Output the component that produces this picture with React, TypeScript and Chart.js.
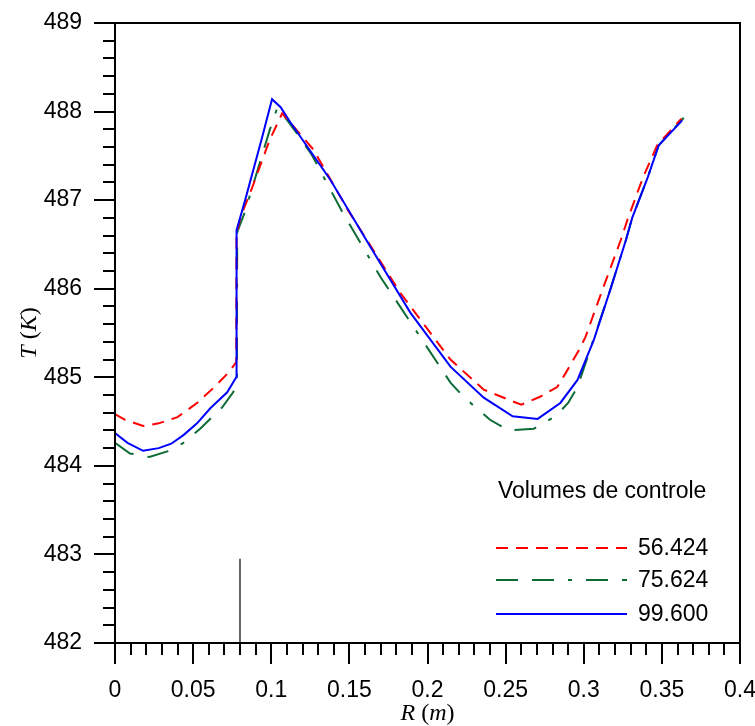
import React, { useEffect, useRef } from 'react';
import { Chart, registerables } from 'chart.js';

Chart.register(...registerables);

// Series names (legend)
const legendTitle = 'Volumes de controle';
const seriesNames = ['56.424', '75.624', '99.600'];

// Series 56.424 (red dashed)
const r56 = [0, 0.0064, 0.018, 0.028, 0.040, 0.0525, 0.063, 0.0725, 0.0776, 0.0778, 0.0805, 0.0865, 0.099, 0.107, 0.127, 0.149, 0.1827, 0.2147, 0.236, 0.26, 0.272, 0.283, 0.2885, 0.297, 0.301, 0.312, 0.3237, 0.328, 0.338, 0.347, 0.3625];
const t56 = [484.585, 484.52, 484.45, 484.48, 484.55, 484.71, 484.88, 485.05, 485.17, 486.62, 486.82, 487.08, 487.68, 487.98, 487.57, 486.89, 485.95, 485.2, 484.86, 484.69, 484.78, 484.89, 485.05, 485.31, 485.45, 485.99, 486.55, 486.78, 487.26, 487.62, 487.92];

// Series 75.624 (green dash-dot)
const r75 = [0, 0.0096, 0.022, 0.033, 0.043, 0.0545, 0.0686, 0.0756, 0.078, 0.0782, 0.083, 0.099, 0.104, 0.117, 0.126, 0.146, 0.17, 0.2147, 0.223, 0.24, 0.252, 0.268, 0.282, 0.29, 0.296, 0.304, 0.317, 0.327, 0.331, 0.341, 0.348, 0.364];
const t75 = [484.26, 484.14, 484.10, 484.16, 484.25, 484.42, 484.66, 484.83, 484.92, 486.64, 486.86, 487.79, 488.05, 487.74, 487.51, 486.85, 486.13, 484.94, 484.78, 484.52, 484.40, 484.42, 484.56, 484.71, 484.89, 485.31, 485.99, 486.55, 486.8, 487.26, 487.62, 487.93];

// Series 99.600 (blue solid)
const r99 = [0, 0.008, 0.018, 0.028, 0.036, 0.044, 0.0525, 0.061, 0.0718, 0.0776, 0.0778, 0.0833, 0.094, 0.1005, 0.106, 0.1122, 0.1378, 0.1635, 0.189, 0.2147, 0.236, 0.2545, 0.2705, 0.285, 0.296, 0.3064, 0.317, 0.327, 0.331, 0.341, 0.348, 0.363];
const t99 = [484.37, 484.26, 484.17, 484.20, 484.25, 484.35, 484.48, 484.65, 484.83, 485.00, 486.66, 487.00, 487.70, 488.14, 488.05, 487.88, 487.23, 486.47, 485.73, 485.12, 484.77, 484.56, 484.53, 484.71, 484.97, 485.42, 485.99, 486.55, 486.8, 487.26, 487.62, 487.90];

// Thin vertical marker line near R = 0.08
const markerR = [0.08, 0.08];
const markerT = [482, 482.95];

// Axes
const xMin = 0, xMax = 0.4, xStep = 0.05, xMinorStep = 0.01;
const yMin = 482, yMax = 489, yStep = 1, yMinorStep = 0.2;

const RED = '#ff0000';
const GREEN = '#0d6b36';
const BLUE = '#0000ff';
const DASH_RED = [12, 8];
const DASH_GREEN = [22, 14, 22, 14, 4, 14];

const FONT_SANS = "Arial, 'Liberation Sans', sans-serif";

const toPts = (rs: number[], ts: number[]) => rs.map((r, i) => ({ x: r, y: ts[i] }));

type Part = { t: string; italic: boolean };

function drawMixed(ctx: CanvasRenderingContext2D, parts: Part[], cx: number, cy: number, size: number) {
  const fam = "'Times New Roman', 'Liberation Serif', serif";
  let total = 0;
  const widths = parts.map((p) => {
    ctx.font = `${p.italic ? 'italic ' : ''}${size}px ${fam}`;
    const w = ctx.measureText(p.t).width;
    total += w;
    return w;
  });
  let x = cx - total / 2;
  ctx.textAlign = 'left';
  ctx.textBaseline = 'middle';
  parts.forEach((p, i) => {
    ctx.font = `${p.italic ? 'italic ' : ''}${size}px ${fam}`;
    ctx.fillText(p.t, x, cy);
    x += widths[i];
  });
}

const decorPlugin = {
  id: 'decor',
  afterDraw(chart: any) {
    const { ctx, chartArea: a, scales } = chart;
    const xs = scales.x;
    const ys = scales.y;
    ctx.save();
    ctx.strokeStyle = '#000';
    ctx.fillStyle = '#000';
    ctx.lineWidth = 2;
    ctx.setLineDash([]);
    // frame
    ctx.beginPath();
    ctx.moveTo(a.left, a.bottom);
    ctx.lineTo(a.left, a.top);
    ctx.lineTo(a.right, a.top);
    ctx.lineTo(a.right, a.bottom);
    ctx.lineTo(a.left, a.bottom);
    ctx.stroke();
    // ticks
    ctx.beginPath();
    const ny = Math.round((yMax - yMin) / yMinorStep);
    const perY = Math.round(yStep / yMinorStep);
    for (let i = 0; i <= ny; i++) {
      const v = yMin + i * yMinorStep;
      const py = Math.round(ys.getPixelForValue(v));
      const len = i % perY === 0 ? 21 : 12;
      ctx.moveTo(a.left - len, py);
      ctx.lineTo(a.left, py);
    }
    const nx = Math.round((xMax - xMin) / xMinorStep);
    const perX = Math.round(xStep / xMinorStep);
    for (let i = 0; i <= nx; i++) {
      const v = xMin + i * xMinorStep;
      const px = Math.round(xs.getPixelForValue(v));
      const len = i % perX === 0 ? 21 : 12;
      ctx.moveTo(px, a.bottom);
      ctx.lineTo(px, a.bottom + len);
    }
    ctx.stroke();

    // axis titles
    drawMixed(ctx, [
      { t: 'R', italic: true },
      { t: ' (', italic: false },
      { t: 'm', italic: true },
      { t: ')', italic: false },
    ], (a.left + a.right) / 2, a.bottom + 71, 24);
    ctx.save();
    ctx.translate(a.left - 85, (a.top + a.bottom) / 2);
    ctx.rotate(-Math.PI / 2);
    drawMixed(ctx, [
      { t: 'T', italic: true },
      { t: ' (', italic: false },
      { t: 'K', italic: true },
      { t: ')', italic: false },
    ], 0, 0, 24);
    ctx.restore();

    // legend
    const lx = a.right - 244;
    ctx.font = `23px ${FONT_SANS}`;
    ctx.textAlign = 'left';
    ctx.textBaseline = 'middle';
    ctx.fillText(legendTitle, lx + 2, 492);
    const rowsY = [548, 580, 614];
    const colors = [RED, GREEN, BLUE];
    const dashes = [DASH_RED, DASH_GREEN, []];
    seriesNames.forEach((name, i) => {
      ctx.strokeStyle = colors[i];
      ctx.lineWidth = 2;
      ctx.setLineDash(dashes[i]);
      ctx.beginPath();
      ctx.moveTo(lx, rowsY[i]);
      ctx.lineTo(lx + 131, rowsY[i]);
      ctx.stroke();
      ctx.setLineDash([]);
      ctx.fillStyle = '#000';
      ctx.fillText(name, lx + 142, rowsY[i] + 1);
    });
    ctx.restore();
  },
};

export default function App() {
  const ref = useRef<HTMLCanvasElement | null>(null);
  useEffect(() => {
    document.body.style.margin = '0';
    const canvas = ref.current;
    if (!canvas) return;
    const chart = new Chart(canvas, {
      type: 'line',
      data: {
        datasets: [
          {
            label: seriesNames[2],
            data: toPts(r99, t99),
            borderColor: BLUE,
            borderWidth: 2,
            pointRadius: 0,
            tension: 0,
            fill: false,
            order: 0,
          },
          {
            label: seriesNames[0],
            data: toPts(r56, t56),
            borderColor: RED,
            borderWidth: 2,
            borderDash: DASH_RED,
            pointRadius: 0,
            tension: 0,
            fill: false,
            order: 1,
          },
          {
            label: seriesNames[1],
            data: toPts(r75, t75),
            borderColor: GREEN,
            borderWidth: 2,
            borderDash: DASH_GREEN,
            pointRadius: 0,
            tension: 0,
            fill: false,
            order: 2,
          },
          {
            label: 'marker',
            data: toPts(markerR, markerT),
            borderColor: '#000',
            borderWidth: 1.2,
            pointRadius: 0,
            tension: 0,
            fill: false,
            order: 3,
          },
        ],
      },
      options: {
        responsive: false,
        animation: false,
        events: [],
        layout: { padding: { left: 0, top: 23, right: 15, bottom: 0 } },
        plugins: {
          legend: { display: false },
          tooltip: { enabled: false },
          title: { display: false },
        },
        scales: {
          x: {
            type: 'linear',
            min: xMin,
            max: xMax,
            grid: { display: false, drawTicks: false },
            border: { display: false },
            ticks: {
              stepSize: xStep,
              padding: 34,
              color: '#000',
              maxRotation: 0,
              autoSkip: false,
              font: { family: FONT_SANS, size: 23 },
              callback: (v: any) => String(Number(Number(v).toFixed(2))),
            },
            afterFit: (s: any) => {
              s.height = 83;
              s.paddingLeft = 0;
              s.paddingRight = 0;
            },
          },
          y: {
            type: 'linear',
            min: yMin,
            max: yMax,
            grid: { display: false, drawTicks: false },
            border: { display: false },
            ticks: {
              stepSize: yStep,
              padding: 33,
              color: '#000',
              autoSkip: false,
              font: { family: FONT_SANS, size: 23 },
              callback: (v: any) => String(Math.round(Number(v))),
            },
            afterFit: (s: any) => {
              s.width = 115;
              s.paddingTop = 0;
              s.paddingBottom = 0;
            },
          },
        },
      },
      plugins: [decorPlugin],
    });
    return () => chart.destroy();
  }, []);
  return (
    <div style={{ width: 755, height: 726, background: '#fff' }}>
      <canvas ref={ref} width={755} height={726} style={{ display: 'block' }} />
    </div>
  );
}
